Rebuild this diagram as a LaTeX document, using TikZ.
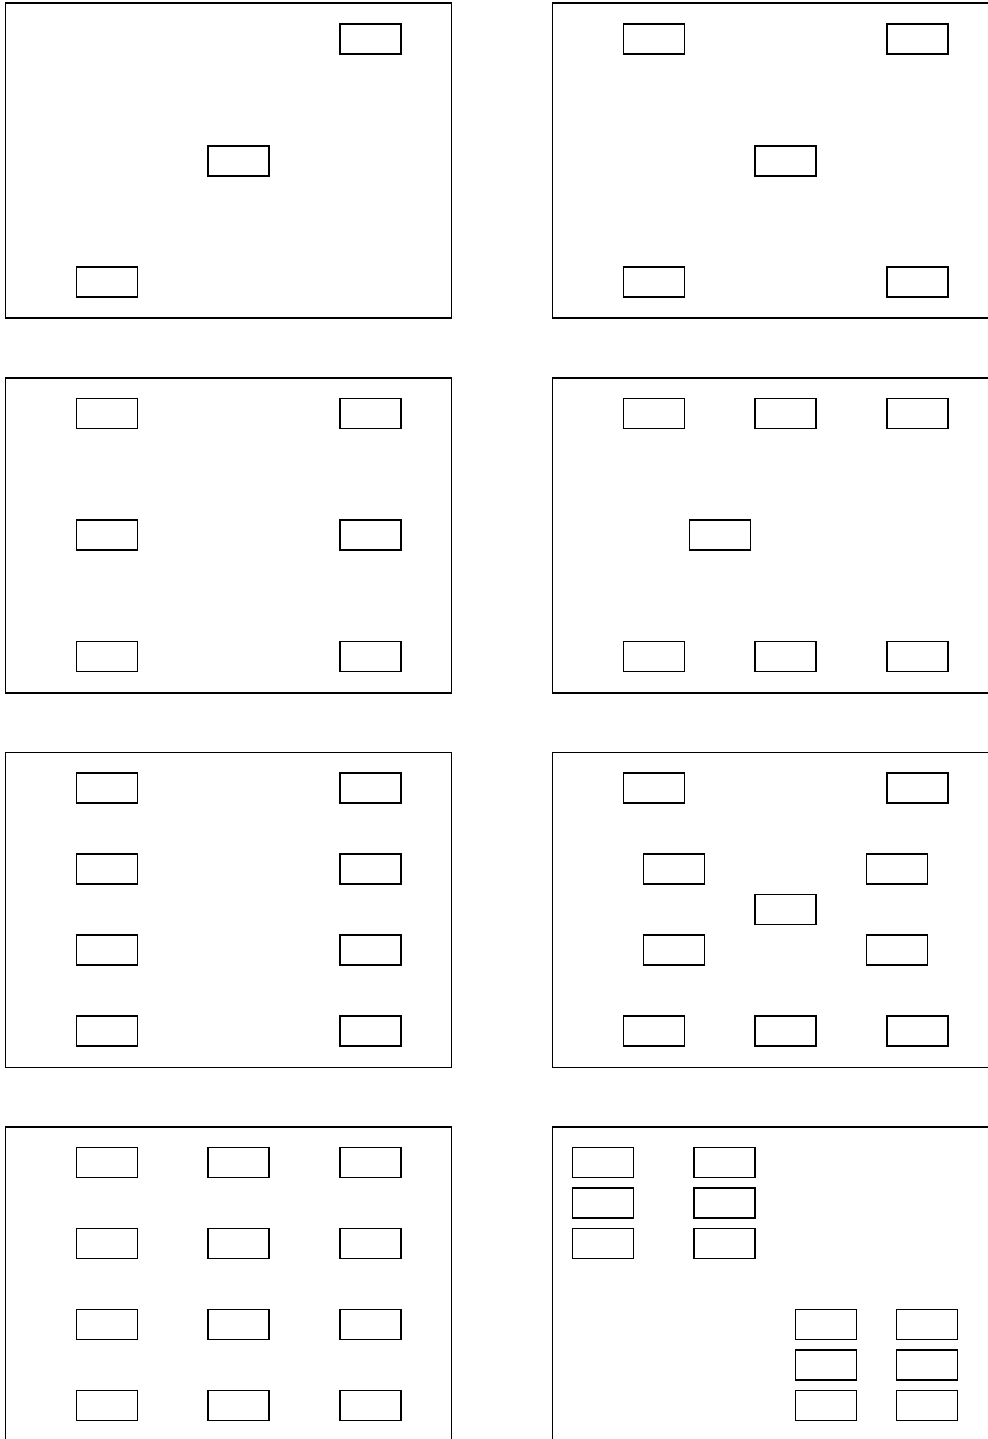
\documentclass[tikz,border=0pt]{standalone}
\begin{document}
\begin{tikzpicture}[x=0.3mm, y=-0.3mm, line width=0.9pt,
  rahmen/.style={black, line width=1pt},
  feld/.style={black, line width=0.9pt}]
  \useasboundingbox (0,0) rectangle (988,1439);
  \clip (0,0) rectangle (988,1439);
  % Rahmen 2x4
  \foreach \px in {5.5,552.5}{
    \foreach \py in {3,378,752.5,1127}{
      \draw[rahmen] (\px,\py) rectangle ++(446,315);
    }
  }
  % Feld 1 (drei diagonal)
  \begin{scope}[shift={(5.5,3)}]
    \foreach \fx/\fy in {334.5/21, 202.5/143, 71/264}{
      \draw[feld] (\fx,\fy) rectangle ++(61,30);
    }
  \end{scope}
  % Feld 2 (vier Ecken + Mitte)
  \begin{scope}[shift={(552.5,3)}]
    \foreach \fx/\fy in {71/21, 334.5/21, 202.5/143, 71/264, 334.5/264}{
      \draw[feld] (\fx,\fy) rectangle ++(61,30);
    }
  \end{scope}
  % Feld 3 (2x3)
  \begin{scope}[shift={(5.5,378)}]
    \foreach \fx in {71,334.5}{
      \foreach \fy in {20.5,142,263.5}{
        \draw[feld] (\fx,\fy) rectangle ++(61,30);
      }
    }
  \end{scope}
  % Feld 4 (3 oben, 1 Mitte, 3 unten)
  \begin{scope}[shift={(552.5,378)}]
    \foreach \fx in {71,202.5,334.5}{
      \draw[feld] (\fx,20.5) rectangle ++(61,30);
      \draw[feld] (\fx,263.5) rectangle ++(61,30);
    }
    \draw[feld] (137,142) rectangle ++(61,30);
  \end{scope}
  % Feld 5 (2x4)
  \begin{scope}[shift={(5.5,752.5)}]
    \foreach \fx in {71,334.5}{
      \foreach \fy in {20.5,101.5,182.5,263.5}{
        \draw[feld] (\fx,\fy) rectangle ++(61,30);
      }
    }
  \end{scope}
  % Feld 6 (Ecken, Innenring, Mitte)
  \begin{scope}[shift={(552.5,752.5)}]
    \foreach \fx/\fy in {71/20.5, 334.5/20.5, 91/101.5, 314/101.5, 202.5/142,
                         91/182.5, 314/182.5, 71/263.5, 202.5/263.5, 334.5/263.5}{
      \draw[feld] (\fx,\fy) rectangle ++(61,30);
    }
  \end{scope}
  % Feld 7 (3x4)
  \begin{scope}[shift={(5.5,1127)}]
    \foreach \fx in {71,202.5,334.5}{
      \foreach \fy in {20.5,101.5,182.5,263.5}{
        \draw[feld] (\fx,\fy) rectangle ++(61,30);
      }
    }
  \end{scope}
  % Feld 8 (zwei Gruppen 2x3)
  \begin{scope}[shift={(552.5,1127)}]
    \foreach \fy in {20.5,61,101.5}{
      \draw[feld] (20,\fy) rectangle ++(61,30);
      \draw[feld] (141.5,\fy) rectangle ++(61,30);
    }
    \foreach \fy in {182.5,223,263.5}{
      \draw[feld] (243,\fy) rectangle ++(61,30);
      \draw[feld] (344,\fy) rectangle ++(61,30);
    }
  \end{scope}
\end{tikzpicture}
\end{document}
